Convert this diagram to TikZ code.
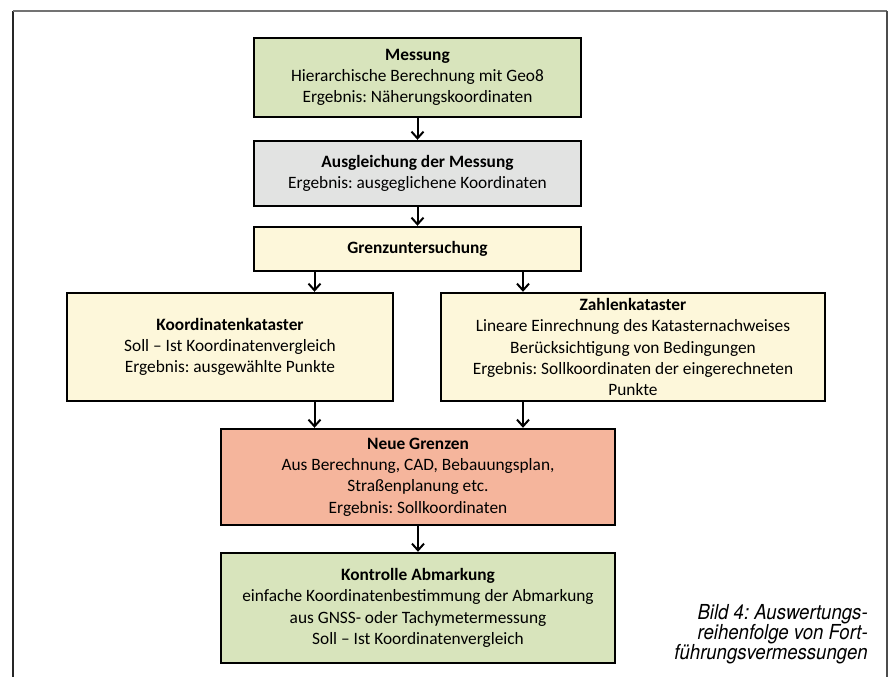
\documentclass[tikz,border=0pt]{standalone}
\usepackage{fontspec}
\setmainfont{Carlito}
\newfontfamily\capfont[FakeStretch=0.9]{TeX Gyre Heros}
\usetikzlibrary{arrows.meta}
\definecolor{boxgreen}{HTML}{D8E4BC}
\definecolor{boxgray}{HTML}{E2E3E2}
\definecolor{boxcream}{HTML}{FDF7DA}
\definecolor{boxsalmon}{HTML}{F5B59C}
\frenchspacing
\begin{document}
\begin{tikzpicture}[x=0.75pt,y=-0.75pt,
  box/.style={draw=black, line width=1.8pt, align=center, inner sep=2pt,
    font=\fontsize{13}{16}\selectfont},
  flow/.style={draw=black, line width=1.5pt,
    -{Straight Barb[length=5pt,width=9pt]}},
  caption/.style={align=right, inner sep=0pt,
    font=\capfont\itshape\fontsize{15.5}{15}\selectfont}]

\useasboundingbox (0,0) rectangle (890,677);

% frame, open at the bottom
\coordinate (fbl) at (13,677);
\coordinate (ftl) at (13,11);
\coordinate (ftr) at (887,11);
\coordinate (fbr) at (887,677);
\draw[black!85, line width=1.4pt] (fbl) -- (ftl);
\draw[black!55, line width=1pt] (ftl) -- (ftr);
\draw[black!70, line width=2.2pt] (ftr) -- (fbr);

% columns for the two branches
\coordinate (lx) at (314.5,0);
\coordinate (rx) at (523,0);

\node[box, fill=boxgreen, minimum width=245.25pt, minimum height=59.25pt]
  (messung) at (417.5,77.5)
  {\bfseries Messung\\Hierarchische Berechnung mit Geo8\\Ergebnis: Näherungskoordinaten};

\node[box, fill=boxgray, minimum width=245.25pt, minimum height=48.75pt]
  (ausgl) at (417.5,173.5)
  {\bfseries Ausgleichung der Messung\\Ergebnis: ausgeglichene Koordinaten};

\node[box, fill=boxcream, minimum width=245.25pt, minimum height=33pt]
  (grenz) at (417.5,249)
  {\bfseries Grenzuntersuchung};

\node[box, fill=boxcream, minimum width=244.5pt, minimum height=81pt]
  (koord) at (230,347)
  {\bfseries Koordinatenkataster\\Soll – Ist Koordinatenvergleich\\Ergebnis: ausgewählte Punkte};

\node[box, fill=boxcream, minimum width=288pt, minimum height=81pt]
  (zahlen) at (633,347)
  {\bfseries Zahlenkataster\\Lineare Einrechnung des Katasternachweises\\Berücksichtigung von Bedingungen\\Ergebnis: Sollkoordinaten der eingerechneten\\Punkte};

\node[box, fill=boxsalmon, minimum width=295.5pt, minimum height=72pt]
  (neue) at (418,477)
  {\bfseries Neue Grenzen\\Aus Berechnung, CAD, Bebauungsplan,\\Straßenplanung etc.\\Ergebnis: Sollkoordinaten};

\node[box, fill=boxgreen, minimum width=295.5pt, minimum height=82.5pt]
  (kontrolle) at (418,608)
  {\bfseries Kontrolle Abmarkung\\einfache Koordinatenbestimmung der Abmarkung\\aus GNSS- oder Tachymetermessung\\Soll – Ist Koordinatenvergleich};

\draw[flow] (messung.south) -- (ausgl.north);
\draw[flow] (ausgl.south) -- (grenz.north);
\draw[flow] (grenz.south -| lx) -- (koord.north -| lx);
\draw[flow] (grenz.south -| rx) -- (zahlen.north -| rx);
\draw[flow] (koord.south -| lx) -- (neue.north -| lx);
\draw[flow] (zahlen.south -| rx) -- (neue.north -| rx);
\draw[flow] (neue.south) -- (kontrolle.north);

\node[caption, anchor=north east] (cap) at (868,604)
  {Bild 4: Auswertungs-\\reihenfolge von Fort-\\führungsvermessungen};
\end{tikzpicture}
\end{document}
